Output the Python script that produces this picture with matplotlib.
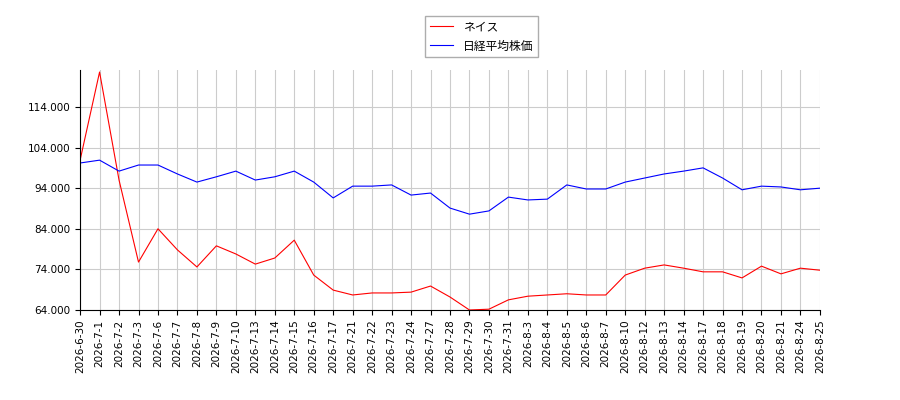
import matplotlib
matplotlib.use("Agg")
import matplotlib.pyplot as plt

plt.rcParams['font.family'] = ['Noto Sans CJK JP', 'DejaVu Sans']

dates = ["2026-6-30","2026-7-1","2026-7-2","2026-7-3","2026-7-6","2026-7-7","2026-7-8","2026-7-9","2026-7-10",
         "2026-7-13","2026-7-14","2026-7-15","2026-7-16","2026-7-17","2026-7-21","2026-7-22","2026-7-23","2026-7-24",
         "2026-7-27","2026-7-28","2026-7-29","2026-7-30","2026-7-31","2026-8-3","2026-8-4","2026-8-5","2026-8-6",
         "2026-8-7","2026-8-10","2026-8-12","2026-8-13","2026-8-14","2026-8-17","2026-8-18","2026-8-19","2026-8-20",
         "2026-8-21","2026-8-24","2026-8-25"]
neis = [100900,122600,96000,75800,84000,78800,74600,79800,77800,75300,76800,81200,72600,68900,67700,68200,68200,68400,
        69900,67200,64000,64200,66500,67400,67700,68000,67700,67700,72600,74300,75100,74300,73400,73400,71900,74800,
        72900,74300,73800]
nikkei = [100200,100900,98200,99700,99700,97500,95500,96800,98200,96000,96800,98200,95500,91600,94500,94500,94800,92300,
          92800,89100,87600,88400,91800,91100,91300,94800,93800,93800,95500,96500,97500,98200,99000,96500,93600,94500,
          94300,93600,94000]
yticks = [64000,74000,84000,94000,104000,114000]
ytick_labels = ["64.000","74.000","84.000","94.000","104.000","114.000"]

fig = plt.figure(figsize=(9,4), dpi=100)
ax = fig.add_axes([0.089, 0.225, 0.822, 0.6])
x = range(len(dates))
ax.plot(x, neis, color="red", lw=0.8, label="ネイス")
ax.plot(x, nikkei, color="blue", lw=0.8, label="日経平均株価")
ax.set_xlim(0, len(dates)-1)
ax.set_ylim(64000, 123100)
ax.spines['top'].set_visible(False)
ax.spines['right'].set_visible(False)
ax.set_yticks(yticks)
ax.set_yticklabels(ytick_labels, fontsize=7.5, family=['DejaVu Sans'])
ax.set_xticks(list(x))
ax.set_xticklabels(dates, rotation=90, fontsize=7.5, family=['DejaVu Sans'])
ax.grid(True, color="#cccccc", lw=0.8)
fig.legend(loc="upper center", bbox_to_anchor=(0.535, 0.975), fontsize=8.5, fancybox=False, edgecolor="#999999")
fig.savefig("out.png")
